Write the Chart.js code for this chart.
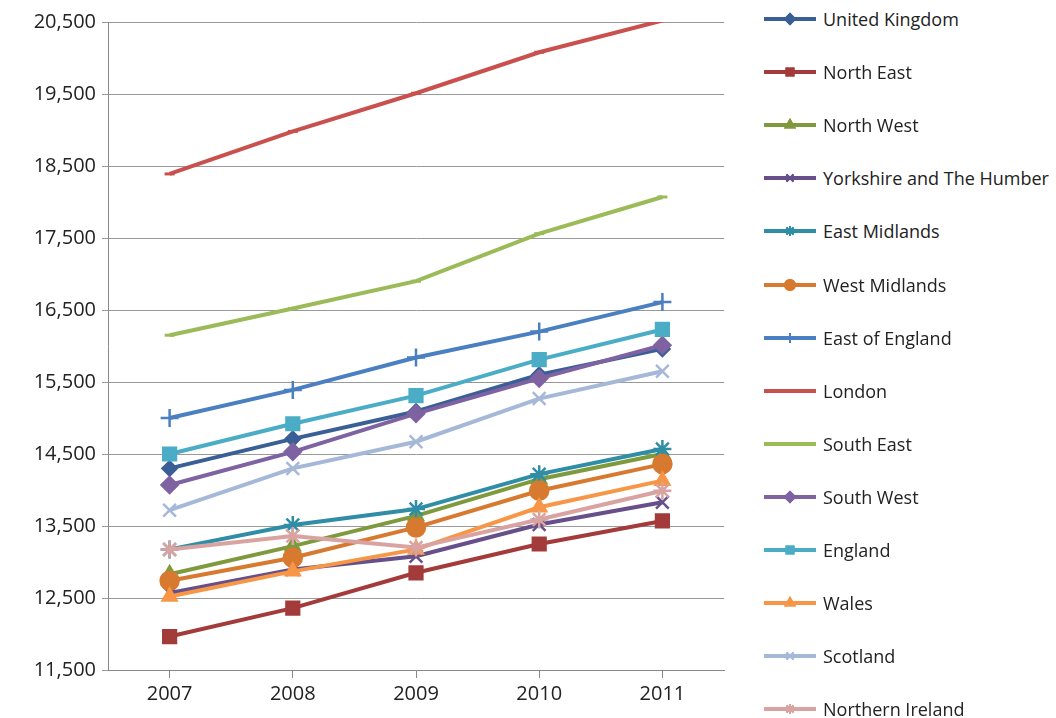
<!DOCTYPE html>
<html><head><meta charset="utf-8">
<script src="https://cdn.jsdelivr.net/npm/chart.js@4"></script>
<style>
body{margin:0;background:#fff;font-family:"Open Sans",sans-serif;}
#wrap{position:absolute;left:0;top:0;width:740px;height:718px;}
#legend{position:absolute;left:762px;top:0;}
.item{position:absolute;left:0;height:24px;display:flex;align-items:center;white-space:nowrap;font-size:18px;color:#222;}
.item canvas{margin-right:5px;}
</style></head><body>
<div id="wrap"><canvas id="c"></canvas></div>
<div id="legend"></div>
<script>
const years=['2007','2008','2009','2010','2011'];
const names=['United Kingdom','North East','North West','Yorkshire and The Humber','East Midlands','West Midlands','East of England','London','South East','South West','England','Wales','Scotland','Northern Ireland'];
const ukVals=[14300,14710,15090,15600,15960];
const neVals=[11965,12360,12850,13250,13570];
const nwVals=[12830,13220,13640,14150,14500];
const yhVals=[12570,12895,13080,13520,13830];
const emVals=[13175,13515,13735,14220,14570];
const wmVals=[12740,13060,13480,13990,14360];
const eoeVals=[15000,15390,15840,16200,16610];
const lonVals=[18390,18980,19510,20080,20520];
const seVals=[16150,16520,16900,17560,18070];
const swVals=[14070,14530,15060,15550,16010];
const engVals=[14500,14920,15310,15810,16230];
const walVals=[12520,12870,13175,13760,14130];
const scoVals=[13720,14300,14670,15270,15650];
const niVals=[13175,13360,13200,13590,13990];
const yTicks=[11500,12500,13500,14500,15500,16500,17500,18500,19500,20500];
const vals=[ukVals,neVals,nwVals,yhVals,emVals,wmVals,eoeVals,lonVals,seVals,swVals,engVals,walVals,scoVals,niVals];
const colors=['#3A5F96','#A33B3A','#7F9A3D','#674F8A','#2F8DA6','#D7792F','#4A7FC1','#C9504D','#9BBB59','#7E62A1','#4BACC6','#F79646','#A6B8D8','#D9A3A2'];
const styles=['rectRot','rect','triangle','crossRot','star','circle','cross','line','line','rectRot','rect','triangle','crossRot','star'];
const radii=[7,9,8,9,9,9,9,5,5,8,9,8,9,9];
const datasets=names.map((n,i)=>({label:n,data:vals[i],borderColor:colors[i],backgroundColor:colors[i],
 borderWidth:4,pointStyle:styles[i],pointRadius:radii[i],pointBorderColor:colors[i],pointBackgroundColor:colors[i],
 pointBorderWidth:(styles[i]==='line'?3:2.5),tension:0}));
datasets.reverse();
new Chart(document.getElementById('c'),{type:'line',data:{labels:years,datasets},
options:{responsive:true,maintainAspectRatio:false,animation:false,
 layout:{padding:{top:22,right:16,bottom:8,left:0}},
 plugins:{legend:{display:false},tooltip:{enabled:false}},
 scales:{
  x:{offset:true,grid:{display:true,drawOnChartArea:false,color:'#888',tickLength:8},border:{color:'#888'},
     ticks:{font:{size:20,family:'Open Sans'},color:'#222',padding:4}},
  y:{min:11500,max:20500,afterBuildTicks:a=>{a.ticks=yTicks.map(v=>({value:v}));},
     afterFit:a=>{a.width=108;},
     grid:{color:'#999',lineWidth:1,drawTicks:true,tickLength:6},border:{color:'#888'},
     ticks:{font:{size:20,family:'Open Sans'},color:'#222',padding:6,callback:v=>v.toLocaleString('en-US')}}
 }}});
const lg=document.getElementById('legend');
names.forEach((n,i)=>{
 const d=document.createElement('div');d.className='item';d.style.top=(7+i*53.1)+'px';
 const c=document.createElement('canvas');c.width=56;c.height=20;
 const x=c.getContext('2d');x.strokeStyle=colors[i];x.fillStyle=colors[i];x.lineWidth=4;
 x.beginPath();x.moveTo(2,10);x.lineTo(54,10);x.stroke();
 x.lineWidth=2;Chart.helpers.drawPoint(x,{pointStyle:styles[i],radius:styles[i]==='line'?4:5,borderWidth:2},28,10);
 x.fill();x.stroke();
 d.appendChild(c);d.appendChild(document.createTextNode(n));lg.appendChild(d);
});
</script></body></html>
